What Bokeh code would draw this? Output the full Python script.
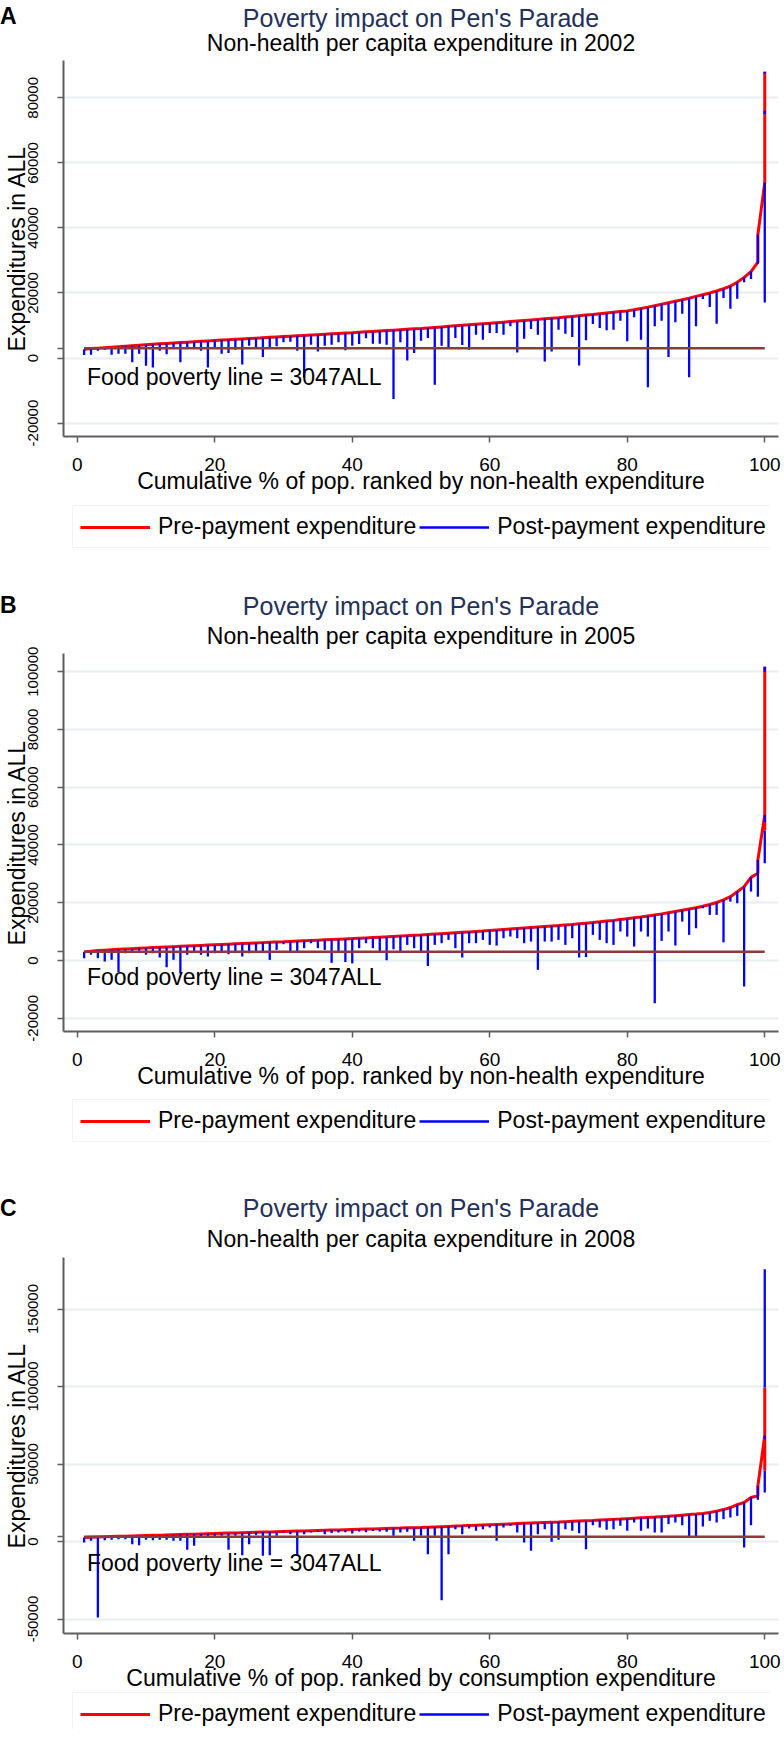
from bokeh.plotting import figure
from bokeh.models import (Label, Legend, LegendItem, FixedTicker, Range1d,
                          NumeralTickFormatter, Title, Div)
from bokeh.layouts import column
from bokeh.embed import file_html
from bokeh.resources import INLINE

FONT = "Liberation Sans"
NAVY = "#24315a"
RED = "#ff0000"
BLUE = "#0000ff"
POV = "#8c3a3a"
AXIS = "#5e5e5e"
GRID = "#e8eef0"

# percentile groups 1..99 (x axis)
pct = list(range(1, 100))
xticks = [0, 20, 40, 60, 80, 100]
poverty_line = 3047
poverty_x = [1, 100]
legend_labels = ["Pre-payment expenditure", "Post-payment expenditure"]
main_title = "Poverty impact on Pen's Parade"
note_text = "Food poverty line = 3047ALL"
y_title = "Expenditures in ALL"
# off-screen key points used only to give the legend swatches a glyph
key_x = [-2.0, -1.0]
key_y = [-2.0, -2.0]

# ---------------- Panel A (2002) ----------------
pre_a = [2700, 2900, 3050, 3200, 3350, 3500, 3650, 3800, 3950, 4100,
         4230, 4360, 4490, 4620, 4750, 4880, 5010, 5140, 5270, 5400,
         5520, 5640, 5760, 5880, 6000, 6120, 6240, 6360, 6480, 6600,
         6720, 6840, 6960, 7080, 7200, 7320, 7440, 7560, 7680, 7800,
         7930, 8060, 8190, 8320, 8450, 8580, 8710, 8840, 8970, 9100,
         9260, 9420, 9580, 9740, 9900, 10060, 10220, 10380, 10540, 10700,
         10870, 11040, 11210, 11380, 11550, 11720, 11890, 12060, 12230, 12400,
         12600, 12800, 13000, 13200, 13400, 13620, 13840, 14060, 14280, 14500,
         14850, 15250, 15650, 16100, 16550, 17000, 17450, 17900, 18400, 18950,
         19450, 20000, 20600, 21300, 22100, 23300, 24800, 26600, 29500]
post_a = [920, 1030, 2260, 2565, 1030, 1330, 1330, -1330, 1330, -2360,
          -2870, 2260, 1130, 2770, -1330, 2975, 2770, 2260, -2870, 2770,
          1330, 1540, 2565, -1950, 3800, 2975, 310, 3080, 3590, 4820,
          5030, 2260, -6000, 4100, 2050, 3800, 4100, 4820, 2360, 3800,
          4300, 6050, 4400, 4400, 4100, -12600, 4820, -720, 1540, 5340,
          6160, -8200, 3800, 2770, 6160, 4000, 2565, 7180, 5640, 7700,
          7700, 7180, 9750, 1740, 5950, 8930, 7180, -1030, 2050, 8720,
          7490, 6460, -2260, 5440, 10470, 9230, 8520, 8720, 11490, 5130,
          12520, 5640, -9000, 9750, 11490, 310, 10980, 13650, -5900, 9750,
          18160, 15700, 10570, 18470, 15190, 18260, 23300, 24300, 29000]
top_x_a = [99, 100, 100, 100]
top_pre_a = [38000, 53900, 76000, 88000]
top_post_a = [29240, 17100, 75000, 87500]
yticks_a = [-20000, 0, 20000, 40000, 60000, 80000]

# ---------------- Panel B (2005) ----------------
pre_b = [3000, 3250, 3450, 3600, 3750, 3880, 4000, 4120, 4240, 4360,
         4470, 4580, 4690, 4800, 4910, 5020, 5130, 5240, 5350, 5460,
         5570, 5680, 5790, 5900, 6000, 6100, 6200, 6300, 6400, 6500,
         6610, 6720, 6830, 6940, 7050, 7160, 7270, 7380, 7490, 7600,
         7720, 7840, 7960, 8080, 8200, 8330, 8460, 8590, 8720, 8850,
         9000, 9150, 9300, 9450, 9600, 9750, 9900, 10050, 10200, 10400,
         10570, 10740, 10910, 11080, 11250, 11420, 11590, 11760, 11930, 12100,
         12300, 12500, 12720, 12940, 13160, 13400, 13650, 13900, 14200, 14500,
         14800, 15100, 15450, 15800, 16150, 16550, 16950, 17400, 17850, 18300,
         18800, 19400, 20100, 21000, 22100, 23800, 25600, 28800, 30200]
post_b = [800, 1960, 800, -350, 230, -4000, 2540, 3110, 2880, 1960,
          2540, 1040, -2300, 230, -4500, 1960, 3340, 1960, 1380, 2540,
          3110, 2190, 3110, 1380, 2540, 3340, 3110, 230, 3690, 5650,
          3110, 3110, 4270, 6000, 4270, 3690, -800, 3110, -500, -1000,
          4270, 6000, 4270, 3110, 100, 3900, 3110, 5420, 4270, 2880,
          -1900, 5420, 6000, 7150, 4270, 1040, 6000, 6000, 7150, 5420,
          5190, 7730, 8300, 7730, 6000, 6570, -3230, 6570, 6570, 7150,
          5420, 7730, 1040, 1200, 8880, 7150, 6000, 5420, 10030, 8300,
          4840, 10030, 8300, -14800, 6800, 10030, 5190, 13490, 8880, 11180,
          18100, 15800, 15800, 6300, 20400, 19830, -9000, 23870, 29500]
top_x_b = [99, 100, 100, 100]
top_pre_b = [34800, 50400, 45000, 101700]
top_post_b = [22100, 48000, 33700, 100000]
yticks_b = [-20000, 0, 20000, 40000, 60000, 80000, 100000]

# ---------------- Panel C (2008) ----------------
pre_c = [2600, 2750, 2900, 3050, 3200, 3330, 3460, 3590, 3720, 3850,
         3980, 4110, 4240, 4370, 4500, 4630, 4760, 4890, 5020, 5150,
         5280, 5410, 5540, 5670, 5800, 5930, 6060, 6190, 6320, 6450,
         6580, 6710, 6840, 6970, 7100, 7230, 7360, 7490, 7620, 7750,
         7880, 8010, 8140, 8270, 8400, 8530, 8660, 8800, 8940, 9080,
         9250, 9420, 9590, 9760, 9930, 10100, 10280, 10460, 10640, 10820,
         11000, 11180, 11360, 11540, 11720, 11900, 12080, 12260, 12440, 12620,
         12820, 13020, 13220, 13420, 13620, 13840, 14060, 14280, 14500, 14750,
         15000, 15250, 15500, 15750, 16050, 16350, 16650, 17000, 17350, 17700,
         18100, 18700, 19600, 20600, 21900, 23800, 25200, 28400, 29500]
post_c = [-650, 430, -49000, 860, 1075, 1500, 1500, -1720, -2370, 1075,
          860, 1075, 1075, 430, 430, -5380, -2800, 2580, 2580, 2580,
          3660, -5380, 3660, -8820, -1720, 4090, -9250, -8820, 3660, 5800,
          4730, -9250, 4730, 5800, 6240, 4730, 5500, 5800, 6000, 5200,
          6500, 6000, 6800, 6500, 6240, 3660, 5800, 6240, 430, 3660,
          -8170, 3660, -37900, -8170, 7960, 4730, 8390, 6880, 7960, 9030,
          430, 9030, 10100, 5800, -650, -6020, 4730, 7960, -215, 1075,
          7960, 6880, 5380, -4950, 10540, 9030, 7530, 7960, 10100, 6880,
          12260, 6880, 8390, 5800, 5800, 11190, 12260, 10540, 2580, 2580,
          9680, 13340, 12260, 14410, 15490, 16560, -3870, 10540, 28000]
top_x_c = [99, 100, 100, 100]
top_pre_c = [35900, 68200, 45600, 99400]
top_post_c = [26900, 66000, 31600, 175700]
yticks_c = [-50000, 0, 50000, 100000, 150000]

panels = [
    dict(letter="A", sub="Non-health per capita expenditure in 2002",
         xlab="Cumulative % of pop. ranked by non-health expenditure",
         pre=pre_a, post=post_a, tx=top_x_a, tpre=top_pre_a, tpost=top_post_a,
         yticks=yticks_a, yr=(-24120, 91480), note_y=-5900,
         fh=376, s_title=-16, s_sub=9, s_pad=6, letter_top=5,
         leg_h=86, leg_m=-10, leg_y=34),
    dict(letter="B", sub="Non-health per capita expenditure in 2005",
         xlab="Cumulative % of pop. ranked by non-health expenditure",
         pre=pre_b, post=post_b, tx=top_x_b, tpre=top_pre_b, tpost=top_post_b,
         yticks=yticks_b, yr=(-24570, 106300), note_y=-5800,
         fh=378, s_title=-6, s_sub=9, s_pad=7, letter_top=12,
         leg_h=94, leg_m=-10, leg_y=43),
    dict(letter="C", sub="Non-health per capita expenditure in 2008",
         xlab="Cumulative % of pop. ranked by consumption expenditure",
         pre=pre_c, post=post_c, tx=top_x_c, tpre=top_pre_c, tpost=top_post_c,
         yticks=yticks_c, yr=(-59350, 183230), note_y=-14000,
         fh=376, s_title=-7, s_sub=11, s_pad=7, letter_top=12,
         leg_h=42, leg_m=-16, leg_y=-6),
]

FW = 715
TOTAL_W = 775


def make_panel(c):
    p = figure(frame_width=FW, frame_height=c["fh"], title=None,
               x_range=Range1d(-2, 102), y_range=Range1d(*c["yr"]),
               output_backend="svg", toolbar_location=None,
               min_border_left=0, min_border_right=5,
               min_border_top=0, min_border_bottom=70,
               background_fill_color="white", border_fill_color=None,
               outline_line_color=None)
    p.xgrid.visible = False
    p.ygrid.ticker = FixedTicker(ticks=c["yticks"])
    p.ygrid.grid_line_color = GRID
    p.ygrid.grid_line_width = 2

    xs = pct + c["tx"]
    pre = c["pre"] + c["tpre"]
    post = c["post"] + c["tpost"]

    p.line(xs, pre, line_color=RED, line_width=3)
    p.segment(x0=xs, y0=pre, x1=xs, y1=post, line_color=BLUE, line_width=2.3)
    p.line(poverty_x, [poverty_line, poverty_line], line_color=POV, line_width=2.5)

    # axes
    p.xaxis.ticker = FixedTicker(ticks=xticks)
    p.yaxis.ticker = FixedTicker(ticks=c["yticks"], minor_ticks=[poverty_line])
    p.yaxis.formatter = NumeralTickFormatter(format="0")
    for ax in (p.xaxis[0], p.yaxis[0]):
        ax.axis_line_color = AXIS
        ax.axis_line_width = 2
        ax.major_tick_line_color = AXIS
        ax.major_tick_line_width = 1.5
        ax.major_tick_out = 6
        ax.major_tick_in = 0
        ax.minor_tick_line_color = AXIS
        ax.minor_tick_line_width = 1.5
        ax.minor_tick_out = 6
        ax.minor_tick_in = 0
        ax.major_label_text_font = FONT
        ax.major_label_text_color = "black"
        ax.axis_label_text_font = FONT
        ax.axis_label_text_font_size = "23px"
        ax.axis_label_text_font_style = "normal"
        ax.axis_label_text_color = "black"
    p.xaxis.major_label_text_font_size = "19px"
    p.xaxis.major_label_standoff = 15
    p.xaxis.axis_label = c["xlab"]
    p.xaxis.axis_label_standoff = -6
    p.yaxis.major_label_text_font_size = "15px"
    p.yaxis.major_label_orientation = "vertical"
    p.yaxis.major_label_standoff = 19
    p.yaxis.axis_label = y_title
    p.yaxis.axis_label_standoff = -4

    # titles (first added sits nearest the plot)
    p.add_layout(Title(text=c["sub"], text_font=FONT, text_font_size="23px",
                       text_font_style="normal", text_color="black",
                       align="center", vertical_align="bottom", standoff=c["s_sub"]), "above")
    p.add_layout(Title(text=main_title, text_font=FONT, text_font_size="25px",
                       text_font_style="normal", text_color=NAVY,
                       align="center", vertical_align="bottom", standoff=c["s_title"]), "above")
    # thin spacer row at the very top
    p.add_layout(Title(text=" ", text_font=FONT, text_font_size="1px",
                       standoff=c["s_pad"]), "above")

    # poverty line note
    p.add_layout(Label(x=1.4, y=c["note_y"], text=note_text, text_font=FONT,
                       text_font_size="23px", text_color="black",
                       text_align="left", text_baseline="middle"))
    return p


def make_legend(c):
    lf = figure(width=TOTAL_W, height=c["leg_h"], x_range=Range1d(0, 1), y_range=Range1d(0, 1),
                x_axis_type=None, y_axis_type=None, output_backend="svg",
                toolbar_location=None, title=None,
                min_border=0, min_border_left=0, min_border_right=0,
                min_border_top=0, min_border_bottom=0,
                background_fill_color=None, border_fill_color=None,
                outline_line_color=None, margin=(c["leg_m"], 0, 0, 0))
    lf.xgrid.visible = False
    lf.ygrid.visible = False
    r_pre = lf.line(x=key_x, y=key_y, line_color=RED, line_width=3)
    r_post = lf.segment(x0=key_x, y0=key_y, x1=key_x, y1=key_x, line_color=BLUE, line_width=2.3)
    legend = Legend(items=[LegendItem(label=legend_labels[0], renderers=[r_pre]),
                           LegendItem(label=legend_labels[1], renderers=[r_post])],
                    orientation="horizontal", location=(9, c["leg_y"]),
                    label_text_font=FONT, label_text_font_size="23px",
                    label_text_color="black",
                    glyph_width=70, glyph_height=20, label_standoff=8,
                    spacing=3, padding=7, margin=0,
                    border_line_color="#e3e9eb", border_line_width=1,
                    background_fill_color="white", background_fill_alpha=1.0)
    lf.add_layout(legend, "center")
    return lf


items = []
for c in panels:
    fig = make_panel(c)
    lt = c["letter_top"]
    letter = Div(text=c["letter"], width=24, height=26, margin=(lt, 0, -(26 + lt), 0),
                 styles={"font-family": FONT, "font-size": "23px", "font-weight": "bold",
                         "line-height": "23px", "color": "black"})
    items.append(letter)
    items.append(fig)
    items.append(make_legend(c))

layout = column(*items, spacing=0)
open("out.html", "w").write(file_html(layout, INLINE))
